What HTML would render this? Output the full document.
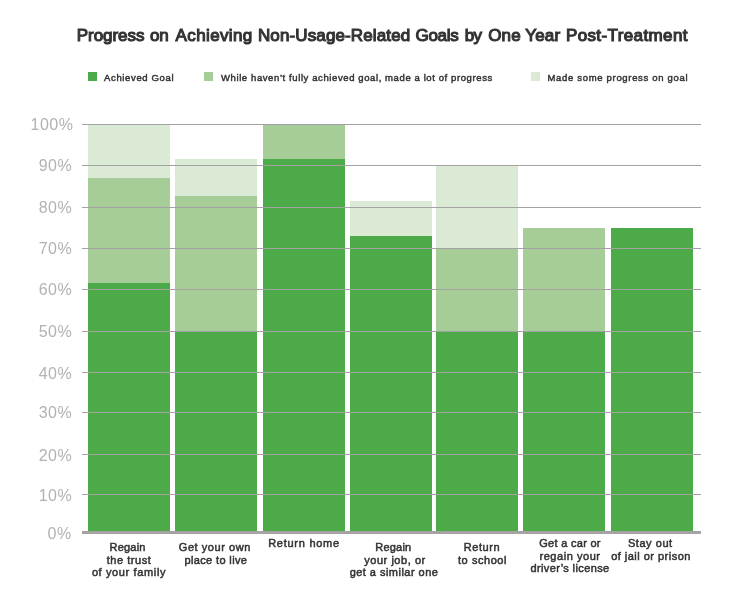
<!DOCTYPE html>
<html><head><meta charset="utf-8">
<style>
html,body{margin:0;padding:0;background:#fff;}
body{width:734px;height:602px;position:relative;overflow:hidden;font-family:"Liberation Sans",sans-serif;}
.abs{position:absolute;}
.bar{position:absolute;width:82px;}
.d{background:#4cab48;}
.m{background:#a6cd98;}
.l{background:#dbead5;}
.g{position:absolute;left:82px;width:619px;height:1px;background:#a3a1a1;}
.yl{position:absolute;right:661.8px;width:60px;text-align:right;font-size:16px;line-height:16px;color:#b3b1b1;white-space:nowrap;letter-spacing:0.5px;}
.title{position:absolute;left:0;top:25px;width:734px;height:22px;font-size:17px;line-height:22px;color:#333;white-space:nowrap;-webkit-text-stroke:1.1px #333;}
.title span{position:absolute;top:0;}
.lg{position:absolute;font-size:9.5px;line-height:12px;color:#333;white-space:nowrap;top:72px;-webkit-text-stroke:0.45px #333;letter-spacing:0.65px;}
.sw{position:absolute;top:72px;width:9px;height:9px;}
.xl{position:absolute;font-size:11px;line-height:12.5px;color:#333;text-align:center;white-space:nowrap;width:120px;-webkit-text-stroke:0.5px #333;letter-spacing:0.55px;}
</style></head><body>
<!-- bars -->
<div class="bar l" style="left:88px;top:124px;height:54px"></div>
<div class="bar m" style="left:88px;top:178px;height:105px"></div>
<div class="bar d" style="left:88px;top:283px;height:249px"></div>

<div class="bar l" style="left:175px;top:159px;height:37px"></div>
<div class="bar m" style="left:175px;top:196px;height:135px"></div>
<div class="bar d" style="left:175px;top:331px;height:201px"></div>

<div class="bar m" style="left:263px;top:124px;height:35px"></div>
<div class="bar d" style="left:263px;top:159px;height:373px"></div>

<div class="bar l" style="left:350px;top:201px;height:35px"></div>
<div class="bar d" style="left:350px;top:236px;height:296px"></div>

<div class="bar l" style="left:436px;top:166px;height:82px"></div>
<div class="bar m" style="left:436px;top:248px;height:83px"></div>
<div class="bar d" style="left:436px;top:331px;height:201px"></div>

<div class="bar m" style="left:523px;top:228px;height:103px"></div>
<div class="bar d" style="left:523px;top:331px;height:201px"></div>

<div class="bar d" style="left:611px;top:228px;height:304px"></div>

<!-- gridlines -->
<div class="g" style="top:124px"></div>
<div class="g" style="top:165px"></div>
<div class="g" style="top:207px"></div>
<div class="g" style="top:248px"></div>
<div class="g" style="top:289px"></div>
<div class="g" style="top:331px"></div>
<div class="g" style="top:372px"></div>
<div class="g" style="top:412px"></div>
<div class="g" style="top:454px"></div>
<div class="g" style="top:494px"></div>
<div class="g" style="top:531px;height:3px;background:#a5a3a3"></div>

<!-- y labels -->
<div class="yl" id="y100" style="top:117px;right:660.6px">100%</div>
<div class="yl" id="y90" style="top:158px">90%</div>
<div class="yl" id="y80" style="top:200px">80%</div>
<div class="yl" id="y70" style="top:241px">70%</div>
<div class="yl" id="y60" style="top:282px">60%</div>
<div class="yl" id="y50" style="top:324px">50%</div>
<div class="yl" id="y40" style="top:366px">40%</div>
<div class="yl" id="y30" style="top:405px">30%</div>
<div class="yl" id="y20" style="top:448px">20%</div>
<div class="yl" id="y10" style="top:488px">10%</div>
<div class="yl" id="y0" style="top:526px;right:662.3px">0%</div>

<!-- title -->
<div class="title" id="title"><span style="left:76.73px;letter-spacing:-0.035px">Progress</span> <span style="left:149.89px;letter-spacing:-0.015px">on</span> <span style="left:175.58px;letter-spacing:0.372px">Achieving</span> <span style="left:257.91px;letter-spacing:0.129px">Non-Usage-Related</span> <span style="left:415.48px;letter-spacing:-0.304px">Goals</span> <span style="left:464.64px;letter-spacing:-0.563px">by</span> <span style="left:488.2px;letter-spacing:0.157px">One</span> <span style="left:525.32px;letter-spacing:0.127px">Year</span> <span style="left:565.91px;letter-spacing:0.391px">Post-Treatment</span></div>

<!-- legend -->
<div class="sw d" style="left:88px"></div>
<div class="lg" id="lg1" style="left:104px">Achieved Goal</div>
<div class="sw m" style="left:204px"></div>
<div class="lg" id="lg2" style="left:221px;letter-spacing:0.6px">While haven’t fully achieved goal, made a lot of progress</div>
<div class="sw l" style="left:531px"></div>
<div class="lg" id="lg3" style="left:547.5px;letter-spacing:0.68px">Made some progress on goal</div>

<!-- x labels -->
<div class="xl" style="left:69px;top:541px"><span id="x1a" style="position:relative;left:-1.4px;letter-spacing:0.2px">Regain</span><br><span id="x1b">the trust</span><br><span id="x1c" style="letter-spacing:0.63px">of your family</span></div>
<div class="xl" style="left:154px;top:541px"><span id="x2a" style="position:relative;left:0.85px">Get your own</span><br><span id="x2b" style="position:relative;left:1.9px;letter-spacing:0.36px">place to live</span></div>
<div class="xl" style="left:244px;top:537px"><span id="x3a" style="letter-spacing:0.74px">Return home</span></div>
<div class="xl" style="left:334px;top:541px"><span id="x4a" style="position:relative;left:-0.7px;letter-spacing:0.2px">Regain</span><br><span id="x4b" style="position:relative;left:1px">your job, or</span><br><span id="x4c" style="letter-spacing:0.47px">get a similar one</span></div>
<div class="xl" style="left:422px;top:541px"><span id="x5a">Return</span><br><span id="x5b" style="position:relative;left:0.5px">to school</span></div>
<div class="xl" style="left:510px;top:537px"><span id="x6a" style="letter-spacing:0.3px">Get a car or</span><br><span id="x6b">regain your</span><br><span id="x6c" style="letter-spacing:0.38px">driver’s license</span></div>
<div class="xl" style="left:591px;top:537px"><span id="x7a" style="position:relative;left:-0.7px">Stay out</span><br><span id="x7b" style="letter-spacing:0.48px">of jail or prison</span></div>
</body></html>
